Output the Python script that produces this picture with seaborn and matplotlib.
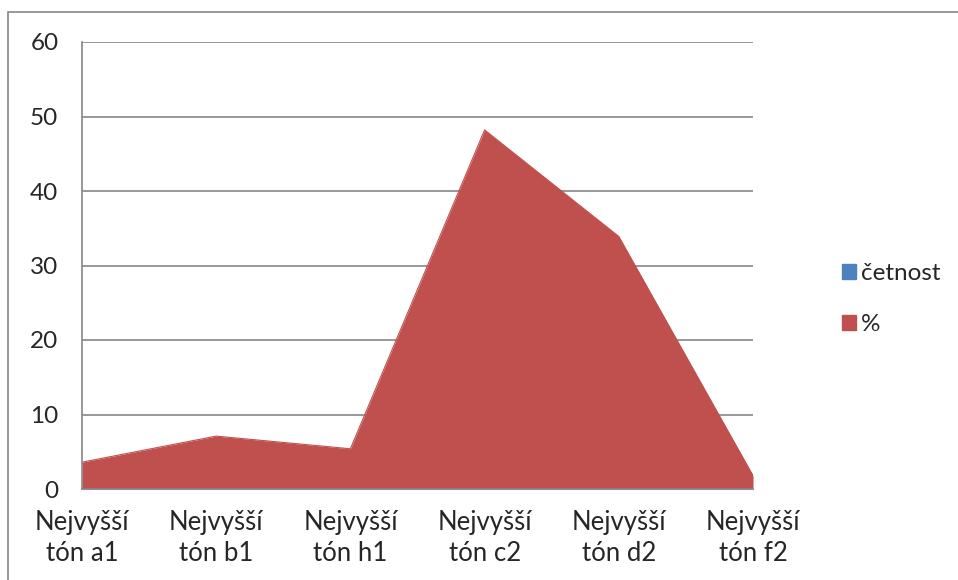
import numpy as np
import pandas as pd
import matplotlib
matplotlib.use("Agg")
import matplotlib.pyplot as plt
import seaborn as sns
from matplotlib.patches import Patch, Rectangle

# ── Data ──────────────────────────────────────────────────────
categories = ["Nejvyšší\ntón a1", "Nejvyšší\ntón b1", "Nejvyšší\ntón h1",
              "Nejvyšší\ntón c2", "Nejvyšší\ntón d2", "Nejvyšší\ntón f2"]
percent    = [3.6, 7.1, 5.4, 48.2, 33.9, 1.8]
series     = ["četnost", "%"]
y_ticks    = [0, 10, 20, 30, 40, 50, 60]

BLUE = "#4F81BD"
RED  = "#C0504D"
GRID = "#868686"

df = pd.DataFrame({"cat": categories, "pct": percent})
df["x"] = np.arange(len(df))

sns.set_style("white")
plt.rcParams["font.family"] = ["Lato", "DejaVu Sans"]

fig = plt.figure(figsize=(9.58, 5.8), dpi=100)
ax = fig.add_axes([82 / 958, 1 - 489 / 580, (753 - 82) / 958, (489 - 42) / 580])

# chart area border
fig.patches.append(Rectangle((8 / 958, -0.01), 1.0, 1 - 12 / 580 + 0.01,
                             transform=fig.transFigure, fill=False,
                             edgecolor=GRID, linewidth=1.2))

ax.fill_between(df["x"], 0, df["pct"], color=RED, linewidth=0, zorder=3)
sns.lineplot(data=df, x="x", y="pct", color=RED, linewidth=0.8, ax=ax, zorder=3)

ax.set_xlim(0, len(df) - 1)
ax.set_ylim(0, 60)
ax.set_yticks(y_ticks)
ax.set_xticks(df["x"])
ax.set_xticklabels(df["cat"], fontsize=18.5, linespacing=1.3)
ax.tick_params(axis="y", labelsize=17.5, length=7, color=GRID, width=1.2, pad=10)
ax.tick_params(axis="x", length=7, color=GRID, width=1.2, pad=8)
ax.set_xlabel("")
ax.set_ylabel("")

ax.yaxis.grid(True, color=GRID, linewidth=1.2, zorder=1)
ax.set_axisbelow(True)
for s in ["top", "right"]:
    ax.spines[s].set_visible(False)
for s in ["left", "bottom"]:
    ax.spines[s].set_color(GRID)
    ax.spines[s].set_linewidth(1.2)
    ax.spines[s].set_zorder(4)

handles = [Patch(facecolor=BLUE, edgecolor=BLUE),
           Patch(facecolor=RED, edgecolor=RED)]
fig.legend(handles, series, loc="center left",
           bbox_to_anchor=(820 / 958, 1 - 299 / 580), frameon=False,
           fontsize=17.5, handlelength=0.6, handleheight=0.6,
           handletextpad=0.2, labelspacing=1.25)

fig.savefig("out.png", dpi=100)
